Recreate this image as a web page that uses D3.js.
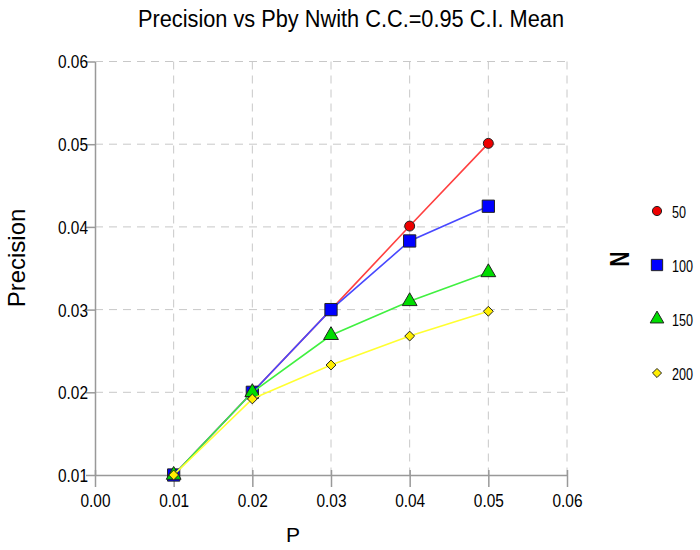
<!DOCTYPE html>
<html>
<head>
<meta charset="utf-8">
<script src="https://cdn.jsdelivr.net/npm/d3@7"></script>
<style>
  body { margin: 0; background: #fff; }
  svg text { font-family: "Liberation Sans", Arial, sans-serif; }
</style>
</head>
<body>
<div id="chart"></div>
<script>
// data
const pValues = [0.01, 0.02, 0.03, 0.04, 0.05];
const nLabels = ['50', '100', '150', '200'];
const prec50 = [0.0100, 0.0200, 0.0300, 0.0401, 0.0501];
const prec100 = [0.0100, 0.0200, 0.0300, 0.0383, 0.0425];
const prec150 = [0.0100, 0.0200, 0.0269, 0.0310, 0.0345];
const prec200 = [0.0100, 0.0192, 0.0233, 0.0268, 0.0298];
const xTicks = [0.00, 0.01, 0.02, 0.03, 0.04, 0.05, 0.06];
const yTicks = [0.01, 0.02, 0.03, 0.04, 0.05, 0.06];

const series = [
  {name: nLabels[0], values: prec50, line: '#ff4040', fill: '#ee0000', symbol: d3.symbolCircle, size: 78},
  {name: nLabels[1], values: prec100, line: '#4848ff', fill: '#0000ff', symbol: d3.symbolSquare, size: 150},
  {name: nLabels[2], values: prec150, line: '#40f040', fill: '#00dd00', symbol: d3.symbolTriangle, size: 95},
  {name: nLabels[3], values: prec200, line: '#ffff30', fill: '#ffee00', symbol: d3.symbolDiamond2, size: 62}
];

const width = 700, height = 550;
const svg = d3.select('#chart').append('svg')
  .attr('width', width)
  .attr('height', height);

const x = d3.scaleLinear().domain([0, 0.06]).range([95, 567]);
const y = d3.scaleLinear().domain([0.01, 0.06]).range([475, 61.5]);

// title (the original font is a condensed one, so squeeze it to its width)
svg.append('text')
  .attr('x', 351).attr('y', 27)
  .attr('text-anchor', 'middle')
  .attr('textLength', 426)
  .attr('lengthAdjust', 'spacingAndGlyphs')
  .style('font-size', '23px')
  .text('Precision vs Pby Nwith C.C.=0.95 C.I. Mean');

// grid
svg.append('g').selectAll('line')
  .data(xTicks.slice(1))
  .enter().append('line')
  .attr('x1', d => x(d)).attr('x2', d => x(d))
  .attr('y1', y(0.06)).attr('y2', y(0.01))
  .attr('stroke', '#c8c8c8')
  .attr('stroke-dasharray', '8,6');

svg.append('g').selectAll('line')
  .data(yTicks.slice(1))
  .enter().append('line')
  .attr('x1', x(0)).attr('x2', x(0.06))
  .attr('y1', d => y(d)).attr('y2', d => y(d))
  .attr('stroke', '#c8c8c8')
  .attr('stroke-dasharray', '8,6');

// axes
const xAxis = svg.append('g')
  .attr('transform', 'translate(0,' + y(0.01) + ')')
  .call(d3.axisBottom(x).tickValues(xTicks).tickFormat(d3.format('.2f')).tickSizeInner(12).tickSizeOuter(0).tickPadding(6));

const yAxis = svg.append('g')
  .attr('transform', 'translate(' + x(0) + ',0)')
  .call(d3.axisLeft(y).tickValues(yTicks).tickFormat(d3.format('.2f')).tickSizeInner(9).tickSizeOuter(0).tickPadding(-2));

[xAxis, yAxis].forEach(function(a) {
  a.select('.domain').attr('stroke', '#999').attr('stroke-width', 1.5);
  a.selectAll('.tick line').attr('stroke', '#999').attr('stroke-width', 1.5);
  a.selectAll('.tick text')
    .attr('fill', '#000')
    .attr('textLength', 30)
    .attr('lengthAdjust', 'spacingAndGlyphs')
    .style('font-size', '18px')
    .style('font-family', '"Liberation Sans", Arial, sans-serif');
});
xAxis.selectAll('.tick line').attr('y1', -5);
xAxis.selectAll('.tick text').attr('dy', null).attr('y', 32);
yAxis.selectAll('.tick text').attr('x', -7).attr('dy', '0.36em');

// axis titles
svg.append('text')
  .attr('x', 293).attr('y', 542)
  .attr('text-anchor', 'middle')
  .style('font-size', '21px')
  .text('P');

svg.append('text')
  .attr('transform', 'translate(25,258) rotate(-90)')
  .attr('text-anchor', 'middle')
  .style('font-size', '24px')
  .text('Precision');

// lines and markers
const line = d3.line()
  .x((d, i) => x(pValues[i]))
  .y(d => y(d));

series.forEach(function(s) {
  svg.append('path')
    .datum(s.values)
    .attr('d', line)
    .attr('fill', 'none')
    .attr('stroke', s.line)
    .attr('stroke-width', 1.6);

  svg.append('g').selectAll('path')
    .data(s.values)
    .enter().append('path')
    .attr('transform', (d, i) => 'translate(' + x(pValues[i]) + ',' + y(d) + ')')
    .attr('d', d3.symbol().type(s.symbol).size(s.size))
    .attr('fill', s.fill)
    .attr('stroke', '#222')
    .attr('stroke-width', 1);
});

// legend
svg.append('text')
  .attr('transform', 'translate(610,259) rotate(90) scale(0.75,1)')
  .attr('text-anchor', 'middle')
  .style('font-size', '28px')
  .style('font-weight', 'bold')
  .text('N');

const legend = svg.append('g').selectAll('g')
  .data(series)
  .enter().append('g')
  .attr('transform', (d, i) => 'translate(657,' + (211 + i * 54) + ')');

legend.append('path')
  .attr('d', d => d3.symbol().type(d.symbol).size(d.size * 0.85)())
  .attr('fill', d => d.fill)
  .attr('stroke', '#222')
  .attr('stroke-width', 1);

legend.append('text')
  .attr('x', 15).attr('y', 7)
  .attr('textLength', d => d.name.length * 7)
  .attr('lengthAdjust', 'spacingAndGlyphs')
  .style('font-size', '17px')
  .text(d => d.name);
</script>
</body>
</html>
